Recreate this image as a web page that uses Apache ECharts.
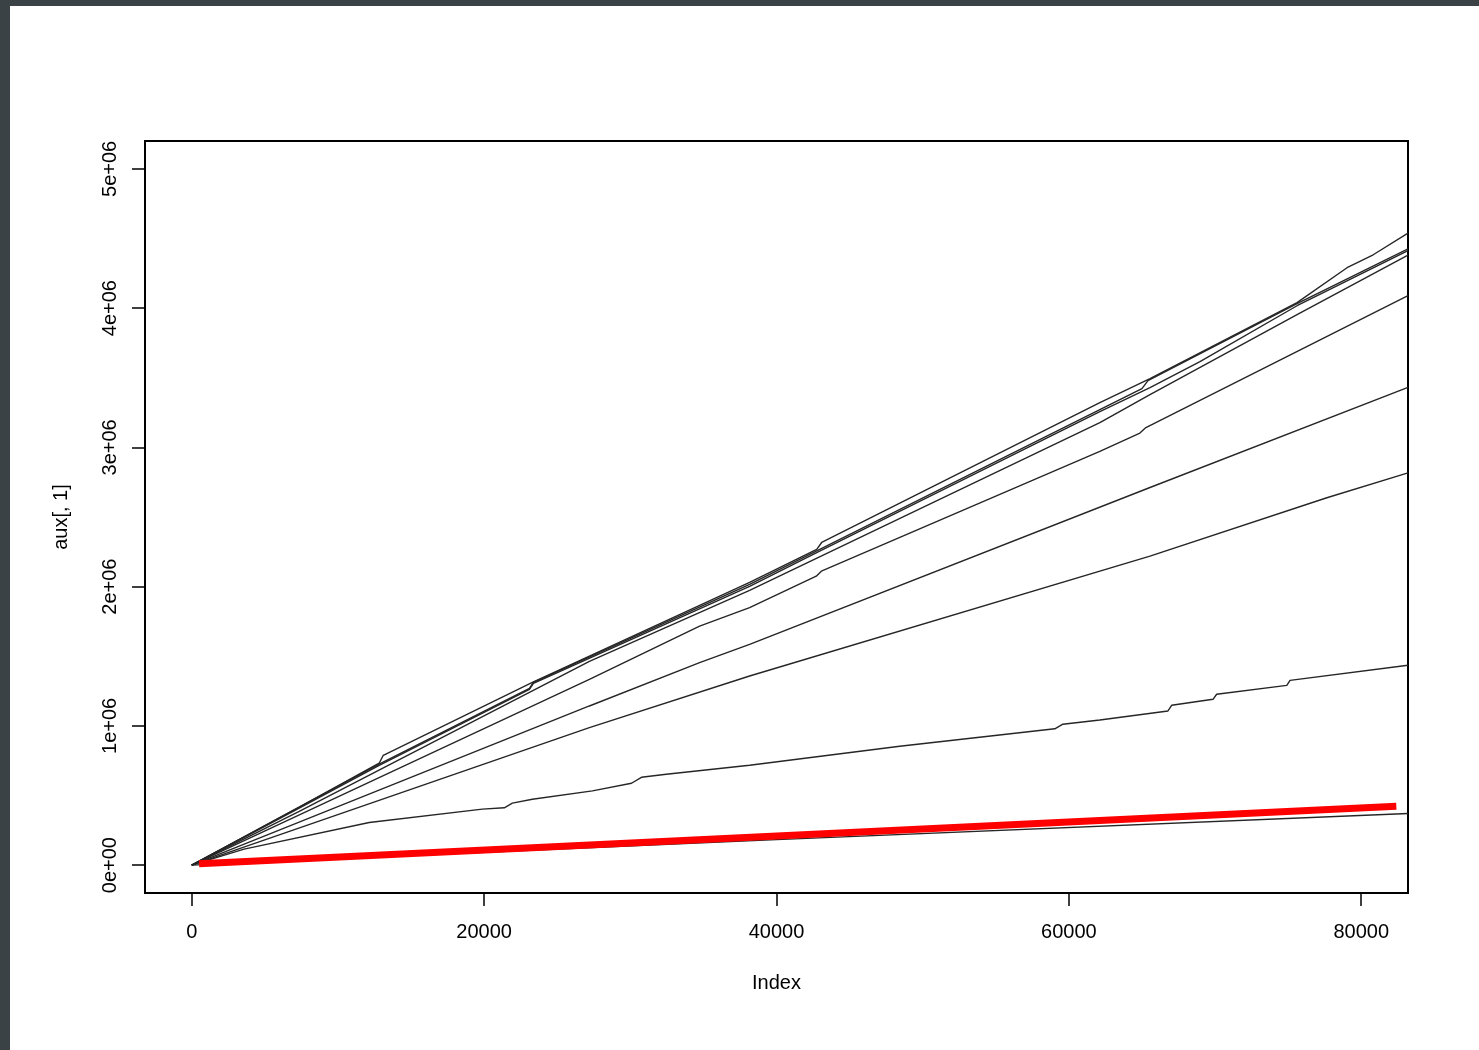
<!DOCTYPE html>
<html>
<head>
<meta charset="utf-8">
<script src="https://cdn.jsdelivr.net/npm/echarts@6.0.0/dist/echarts.min.js"></script>
<style>
  html, body { margin: 0; padding: 0; width: 1479px; height: 1050px; background: #3a4246; overflow: hidden; }
  #chart { position: absolute; left: 10px; top: 6px; width: 1469px; height: 1044px; background: #ffffff; }
</style>
</head>
<body>
<div id="chart"></div>
<script>
// Axis ticks and their printed labels
const xTicks = [0, 20000, 40000, 60000, 80000];
const xTickLabels = ['0', '20000', '40000', '60000', '80000'];
const yTicks = [0, 1000000, 2000000, 3000000, 4000000, 5000000];
const yTickLabels = ['0e+00', '1e+06', '2e+06', '3e+06', '4e+06', '5e+06'];

// Cumulative runs, [index, value] pairs
const run1 = [[0,0],[7350,416000],[12820,732000],[13100,789000],[23300,1313000],[38160,2030000],[42750,2267000],[43090,2317000],[62120,3322000],[65550,3494000],[75610,4039000],[79030,4290000],[80820,4383000],[83200,4539000]];
const run2 = [[0,0],[7350,416000],[12820,725000],[23100,1270000],[23370,1313000],[38160,2016000],[62120,3271000],[65000,3422000],[65410,3479000],[75610,4032000],[83200,4426000]];
const run3 = [[0,0],[7350,409000],[12820,717000],[23100,1263000],[23370,1306000],[38160,2002000],[42750,2245000],[62120,3257000],[65550,3429000],[68970,3616000],[75610,4017000],[83200,4412000]];
const run4 = [[0,0],[7350,387000],[27200,1463000],[38160,1973000],[62120,3178000],[65550,3379000],[75610,3953000],[83200,4380000]];
const run5 = [[0,0],[27200,1334000],[34740,1717000],[38160,1849000],[42720,2075000],[43070,2111000],[62120,2972000],[64860,3103000],[65270,3142000],[83200,4089000]];
const run6 = [[0,0],[27200,1143000],[34740,1454000],[38160,1585000],[65550,2712000],[83200,3431000]];
const run7 = [[0,0],[27200,988000],[38160,1358000],[65550,2219000],[77650,2638000],[83200,2817000]];
const run8 = [[0,0],[3580,115000],[12140,306000],[19880,402000],[21380,412000],[21930,445000],[23300,473000],[27410,533000],[30080,588000],[30760,631000],[32460,653000],[38160,717000],[48430,854000],[59040,979000],[59590,1012000],[62120,1042000],[66780,1107000],[67030,1148000],[69860,1191000],[70110,1227000],[74910,1291000],[75130,1327000],[83200,1435000]];
const run9 = [[0,0],[40000,183000],[83200,371000]];

// Reference line (red)
const reference = [[500,10000],[82400,423000]];

const runs = [run1, run2, run3, run4, run5, run6, run7, run8, run9];

const FONT = "'Liberation Sans', Arial, Helvetica, sans-serif";

const series = runs.map((d, i) => ({
  type: 'line',
  name: 'run' + (i + 1),
  data: d,
  symbol: 'none',
  showSymbol: false,
  silent: true,
  z: 2,
  lineStyle: { color: '#262626', width: 1.4 }
}));

series.push({
  type: 'line',
  name: 'reference',
  data: reference,
  symbol: 'none',
  showSymbol: false,
  silent: true,
  z: 5,
  lineStyle: { color: '#ff0000', width: 7, cap: 'butt' }
});

const chart = echarts.init(document.getElementById('chart'), null, { renderer: 'canvas' });

chart.setOption({
  animation: false,
  backgroundColor: '#ffffff',
  grid: {
    left: 135, top: 135, right: 71, bottom: 157,
    show: true, borderColor: '#000000', borderWidth: 2, backgroundColor: 'transparent',
    containLabel: false, outerBoundsMode: 'none'
  },
  xAxis: {
    type: 'value',
    min: -3200, max: 83200,
    name: 'Index',
    nameLocation: 'middle',
    nameGap: 80,
    nameTextStyle: { color: '#000', fontFamily: FONT, fontSize: 20 },
    axisLine: { show: false, onZero: false },
    splitLine: { show: false },
    axisTick: { show: true, inside: false, customValues: xTicks, length: 13, lineStyle: { color: '#000', width: 1.5 } },
    axisLabel: {
      customValues: xTicks,
      margin: 29,
      color: '#000', fontFamily: FONT, fontSize: 20,
      formatter: v => xTickLabels[xTicks.indexOf(v)]
    }
  },
  yAxis: {
    type: 'value',
    min: -200000, max: 5200000,
    name: 'aux[, 1]',
    nameLocation: 'middle',
    nameGap: 74,
    nameTextStyle: { color: '#000', fontFamily: FONT, fontSize: 20 },
    axisLine: { show: false, onZero: false },
    splitLine: { show: false },
    axisTick: { show: true, inside: false, customValues: yTicks, length: 13, lineStyle: { color: '#000', width: 1.5 } },
    axisLabel: {
      customValues: yTicks,
      rotate: 90,
      margin: 25,
      color: '#000', fontFamily: FONT, fontSize: 20,
      formatter: v => yTickLabels[yTicks.indexOf(v)]
    }
  },
  series: series
});
</script>
</body>
</html>
